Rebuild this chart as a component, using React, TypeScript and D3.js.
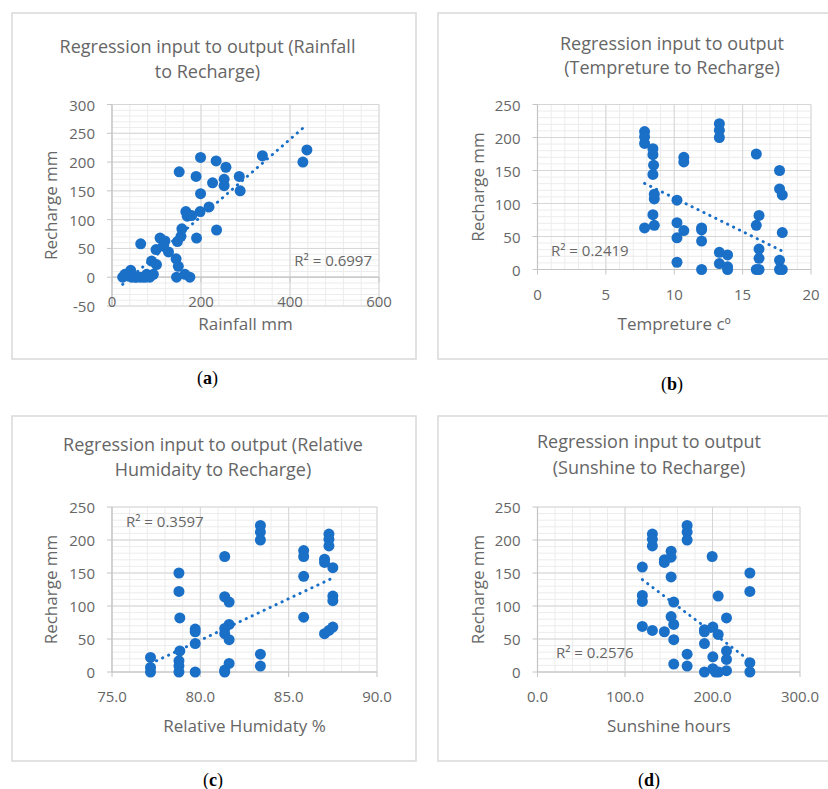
import * as d3 from "d3";

// (a) rainfall vs recharge
const rainfallMm = [24, 29, 42, 44, 52, 55, 63, 64.5, 70, 76, 78, 85, 89, 93, 100, 99, 108, 115, 119, 127, 144, 149, 145, 147, 155, 157, 151, 166, 169, 179, 164, 175, 190, 189, 199, 199, 198, 218, 226, 234, 235, 252, 252, 256, 286, 288, 338, 429, 438];
const rainRecharge = [0, 5, 12, 0, 0, 0, 0, 58, 0, 0, 5, 0, 28, 5, 22, 48, 68, 54, 63, 44, 32, 19, 0, 62, 71, 84, 183, 114, 106, 107, 5, 0, 68, 175, 208, 145, 114, 122, 164, 202, 82, 170, 159, 191, 175, 150, 211, 200, 221];

// (b) temperature vs recharge
const temperatureC = [7.83, 7.83, 7.83, 7.83, 8.44, 8.44, 8.49, 8.44, 8.54, 8.54, 8.44, 8.54, 10.2, 10.2, 10.2, 10.2, 10.7, 10.7, 10.7, 12.0, 12.0, 12.0, 12.0, 13.3, 13.3, 13.3, 13.3, 13.3, 13.9, 13.9, 13.9, 16.0, 16.2, 16.0, 16.2, 16.2, 16.0, 16.2, 17.7, 17.7, 17.9, 17.9, 17.7, 17.7, 17.9];
const tempRecharge = [209, 201, 191, 63, 183, 174, 158, 144, 114, 107, 83, 67, 105, 71, 48, 11, 170, 163, 59, 63, 60, 43, 0, 221, 211, 200, 26, 9, 22, 4, 0, 175, 82, 67, 31, 17, 0, 0, 150, 122, 113, 56, 14, 0, 0];

// (c) relative humidity vs recharge
const humidityPct = [77.18, 77.18, 77.18, 78.79, 78.79, 78.84, 78.84, 78.79, 78.79, 78.79, 79.71, 79.71, 79.71, 79.71, 81.38, 81.38, 81.63, 81.63, 81.38, 81.38, 81.63, 81.63, 81.38, 81.38, 83.4, 83.4, 83.4, 83.4, 83.4, 85.85, 85.85, 85.85, 85.85, 87.03, 87.03, 87.03, 87.28, 87.28, 87.28, 87.5, 87.5, 87.5, 87.5, 87.28];
const humRecharge = [22, 7, 0, 150, 122, 82, 32, 17, 9, 0, 65, 61, 43, 0, 175, 114, 106, 72, 66, 58, 49, 13, 3, 0, 222, 212, 200, 27, 9, 184, 175, 145, 83, 171, 166, 58, 209, 201, 191, 158, 115, 108, 68, 63];

// (d) sunshine vs recharge
const sunshineHours = [119.8, 119.8, 119.8, 119.8, 131.3, 131.3, 131.3, 131.3, 145, 145, 145, 152.7, 152.7, 152.7, 155.7, 152.7, 155.7, 155.7, 155.7, 171, 171, 171, 171, 171, 199.6, 206.5, 216, 190.8, 190.8, 200.4, 206.5, 190.8, 200.4, 216, 216, 190.8, 200.4, 203.4, 207, 216, 242.7, 242.7, 242.7, 242.7];
const sunRecharge = [159, 116, 107, 69, 209, 201, 191, 63, 170, 166, 61, 183, 174, 144, 106, 84, 72, 49, 12, 222, 212, 200, 27, 9, 175, 115, 82, 64, 61, 68, 57, 43, 23, 32, 19, 0, 5, 0, 0, 2, 150, 122, 14, 0];

// linear trendlines as shown (start / end)
const trendX = [[24, 438], [7.83, 17.9], [77.18, 87.5], [119.8, 242.7]];
const trendY = [[-12.5, 265], [130.5, 28], [12.7, 142.5], [140, 17]];
const rSquared = ["0.6997", "0.2419", "0.3597", "0.2576"];

const BLUE = "#1a6fc7";
const TEXT = "#666666";
const FONT = "'Open Sans', sans-serif";

const panels = [
  {
    frame: { x: 12, y: 13, w: 404, h: 346 },
    plot: { left: 112, right: 379, top: 104.5, bottom: 306 },
    xs: rainfallMm, ys: rainRecharge,
    xDomain: [0, 600], xMajor: 200, xMinor: 40, fmt: (v) => String(v),
    yDomain: [-50, 300],
    title: ["Regression input to output (Rainfall", "to Recharge)"], titleX: 207.5, titleY: [53, 77.5],
    xLabel: "Rainfall mm", xTickY: 301, xLabelY: 323, yLabelX: 50,
    r2: { x: 372, y: 260, anchor: "end" }, caption: "a", captionY: 384,
  },
  {
    frame: { x: 438, y: 13, w: 400, h: 346 },
    plot: { left: 537.5, right: 811, top: 104.5, bottom: 269.5 },
    xs: temperatureC, ys: tempRecharge,
    xDomain: [0, 20], xMajor: 5, xMinor: 1, fmt: (v) => String(v),
    yDomain: [0, 250],
    title: ["Regression input to output", "(Tempreture to Recharge)"], titleX: 672, titleY: [49.5, 74],
    xLabel: "Tempreture cº", xTickY: 293.5, xLabelY: 323, yLabelX: 477,
    r2: { x: 551, y: 250, anchor: "start" }, caption: "b", captionY: 390,
  },
  {
    frame: { x: 12, y: 416, w: 404, h: 345 },
    plot: { left: 112, right: 377, top: 507, bottom: 672 },
    xs: humidityPct, ys: humRecharge,
    xDomain: [75, 90], xMajor: 5, xMinor: 1, fmt: (v) => v.toFixed(1),
    yDomain: [0, 250],
    title: ["Regression input to output (Relative", "Humidaity to Recharge)"], titleX: 213, titleY: [451, 476],
    xLabel: "Relative Humidaty %", xTickY: 696, xLabelY: 725, yLabelX: 50,
    r2: { x: 126, y: 521, anchor: "start" }, caption: "c", captionY: 786,
  },
  {
    frame: { x: 438, y: 416, w: 400, h: 345 },
    plot: { left: 537.5, right: 800, top: 507, bottom: 672 },
    xs: sunshineHours, ys: sunRecharge,
    xDomain: [0, 300], xMajor: 100, xMinor: 20, fmt: (v) => v.toFixed(1),
    yDomain: [0, 250],
    title: ["Regression input to output", "(Sunshine to Recharge)"], titleX: 649, titleY: [448, 473.5],
    xLabel: "Sunshine hours", xTickY: 696, xLabelY: 725, yLabelX: 477,
    r2: { x: 556, y: 652, anchor: "start" }, caption: "d", captionY: 786,
  },
];

const steps = (d, step) => d3.range(0, Math.round((d[1] - d[0]) / step) + 1).map((i) => d[0] + i * step);

function Panel({ p, idx }) {
  const { plot } = p;
  const x = d3.scaleLinear().domain(p.xDomain).range([plot.left, plot.right]);
  const y = d3.scaleLinear().domain(p.yDomain).range([plot.bottom, plot.top]);
  const xMaj = steps(p.xDomain, p.xMajor);
  const xMin = steps(p.xDomain, p.xMinor);
  const yMaj = steps(p.yDomain, 50);
  const yMin = steps(p.yDomain, 10);
  const trend = d3.line().x((d) => x(d[0])).y((d) => y(d[1]))(trendX[idx].map((v, i) => [v, trendY[idx][i]]));
  const yLabelY = (plot.top + plot.bottom) / 2;

  return (
    <g fontFamily={FONT} fill={TEXT}>
      <rect x={p.frame.x} y={p.frame.y} width={p.frame.w} height={p.frame.h} fill="#fff" stroke="#d9d9d9" strokeWidth={1.5} />
      {/* minor grid */}
      {xMin.map((v, i) => <line key={"xm" + i} x1={x(v)} x2={x(v)} y1={plot.top} y2={plot.bottom} stroke="#ececec" />)}
      {yMin.map((v, i) => <line key={"ym" + i} x1={plot.left} x2={plot.right} y1={y(v)} y2={y(v)} stroke="#ececec" />)}
      {/* major grid */}
      {xMaj.map((v, i) => <line key={"xM" + i} x1={x(v)} x2={x(v)} y1={plot.top} y2={plot.bottom} stroke="#d6d6d6" />)}
      {yMaj.map((v, i) => <line key={"yM" + i} x1={plot.left} x2={plot.right} y1={y(v)} y2={y(v)} stroke="#d6d6d6" />)}
      {/* axes */}
      <line x1={x(p.xDomain[0])} x2={x(p.xDomain[0])} y1={plot.top} y2={plot.bottom} stroke="#c4c4c4" strokeWidth={1.2} />
      <line x1={plot.left} x2={plot.right} y1={y(0)} y2={y(0)} stroke="#c4c4c4" strokeWidth={1.2} />
      {yMaj.map((v, i) => <line key={"yt" + i} x1={plot.left - 5} x2={plot.left} y1={y(v)} y2={y(v)} stroke="#c4c4c4" />)}
      {xMaj.map((v, i) => <line key={"xt" + i} x1={x(v)} x2={x(v)} y1={y(0)} y2={y(0) + 5} stroke="#c4c4c4" />)}
      {/* tick labels */}
      {yMaj.map((v, i) => (
        <text key={"yl" + i} x={plot.left - 17} y={y(v)} textAnchor="end" dominantBaseline="central" fontSize={15}>{v}</text>
      ))}
      {xMaj.map((v, i) => (
        <text key={"xl" + i} x={x(v)} y={p.xTickY} textAnchor="middle" dominantBaseline="central" fontSize={15}>{p.fmt(v)}</text>
      ))}
      {/* points */}
      {p.xs.map((v, i) => <circle key={"pt" + i} cx={x(v)} cy={y(p.ys[i])} r={5.5} fill={BLUE} />)}
      <path d={trend} fill="none" stroke={BLUE} strokeWidth={2.9} strokeLinecap="round" strokeDasharray="0.3 6.3" />
      <text x={p.r2.x} y={p.r2.y} textAnchor={p.r2.anchor} dominantBaseline="central" fontSize={15}>R² = {rSquared[idx]}</text>
      {/* titles */}
      {p.title.map((t, i) => (
        <text key={"t" + i} x={p.titleX} y={p.titleY[i]} textAnchor="middle" fontSize={18}>{t}</text>
      ))}
      <text x={(plot.left + plot.right) / 2} y={p.xLabelY} textAnchor="middle" dominantBaseline="central" fontSize={17}>{p.xLabel}</text>
      <text transform={`translate(${p.yLabelX},${yLabelY}) rotate(-90)`} textAnchor="middle" dominantBaseline="central" fontSize={17}>Recharge mm</text>
      <text x={p.titleX} y={p.captionY} textAnchor="middle" fontFamily="'Liberation Serif', serif" fontSize={18} fill="#000">
        (<tspan fontWeight="bold">{p.caption}</tspan>)
      </text>
    </g>
  );
}

export default function App() {
  return (
    <svg width={828} height={789} style={{ position: "absolute", left: 0, top: 0, background: "#fff" }}>
      <rect width={828} height={789} fill="#fff" />
      {panels.map((p, i) => <Panel key={i} p={p} idx={i} />)}
    </svg>
  );
}
